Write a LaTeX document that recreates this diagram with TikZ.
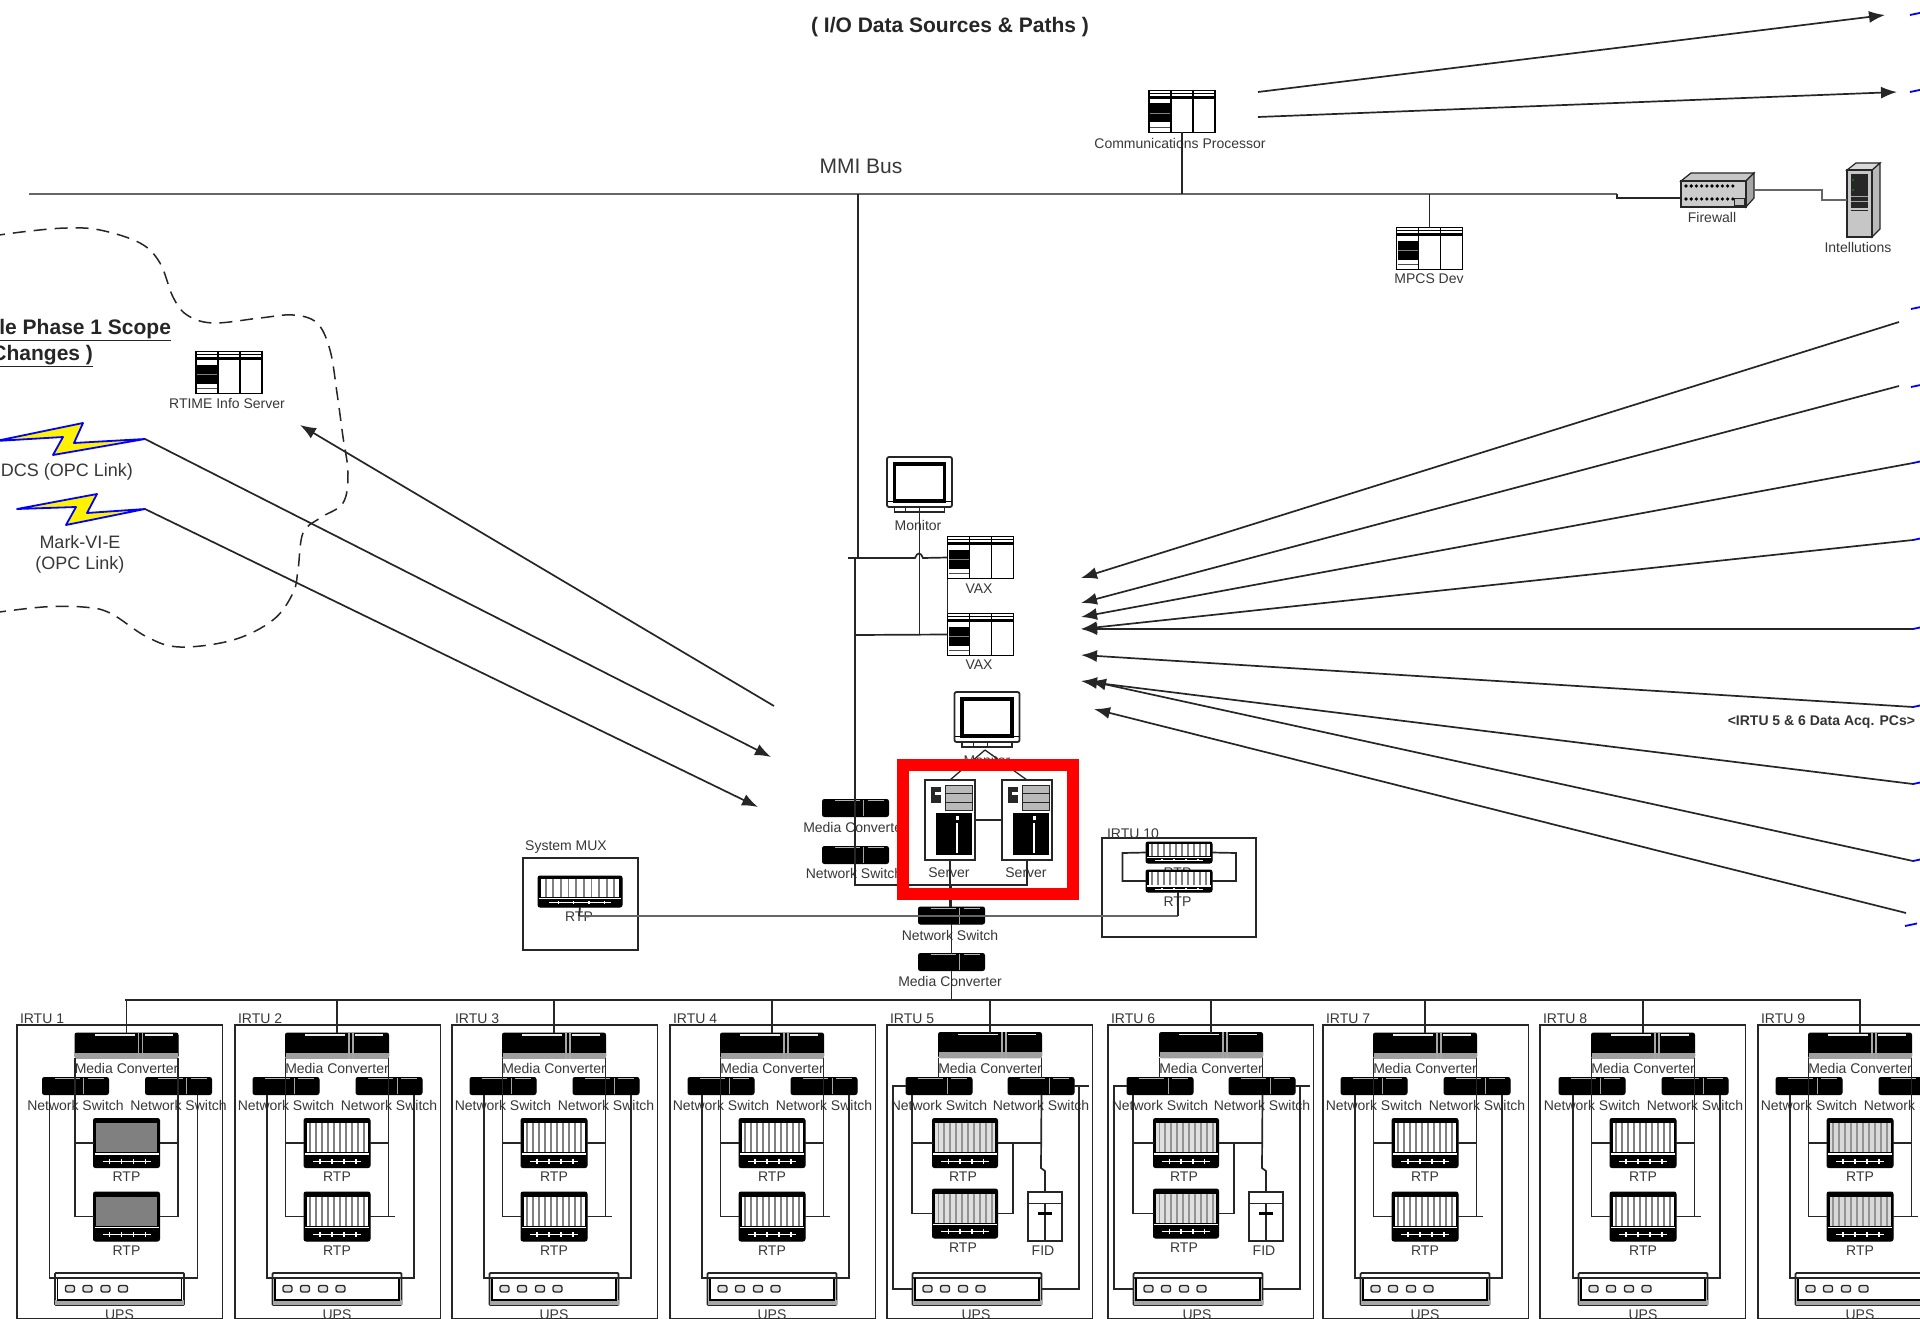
\documentclass[tikz,border=0pt]{standalone}
\usepackage{fontspec}
\setmainfont{Liberation Sans}
\usetikzlibrary{arrows.meta,calc}
\definecolor{ink}{gray}{0.15}
\definecolor{lab}{gray}{0.22}
\tikzset{
  wire/.style={draw=ink,line width=1.7pt},
  arr/.style={draw=ink,line width=1.7pt,-{Latex[length=16pt,width=12pt]}},
  lbl/.style={text=lab,font=\fontsize{14}{16}\selectfont,inner sep=0pt,outer sep=0pt},
  biglbl/.style={text=lab,font=\fontsize{18}{21}\selectfont,inner sep=0pt,outer sep=0pt},
  boldlbl/.style={text=black!85,font=\bfseries\fontsize{21}{24}\selectfont,inner sep=0pt,outer sep=0pt},
  iconbox/.style={draw=black,fill=white,line width=1.8pt,inner sep=0pt,outer sep=0pt,rectangle},
  blackbox/.style={draw=black,fill=black,line width=1pt,rounded corners=2pt,inner sep=0pt,outer sep=0pt,rectangle},
  unitbox/.style={draw=ink,line width=1.8pt,inner sep=0pt,outer sep=0pt,rectangle},
  blindbox/.style={inner sep=0pt,outer sep=0pt,rectangle},
  cloudline/.style={draw=ink,line width=1.5pt,dash pattern=on 13pt off 8pt},
  bolt/.style={draw=blue,fill=yellow,line width=1.8pt,line join=round},
  stub/.style={draw=blue,line width=1.8pt},
  redframe/.style={draw=red,line width=11.5pt},
}
% ---------- icons ----------
\newcommand\plcicon[3]{%
  \node[iconbox,minimum width=66pt,minimum height=42pt] (#1) at (#2,#3) {};
  \begin{scope}[shift={(#2,#3)}]
    \draw[black,line width=1.4pt] (-33,-18) -- (33,-18);
    \draw[black,line width=2.4pt] (-33,-14) -- (33,-14);
    \draw[black,line width=1.8pt] (-11,-21) -- (-11,21) (11,-21) -- (11,21);
    \fill[black] (-32,-8) rectangle (-12,11);
    \draw[gray,line width=.8pt] (-32,1.5) -- (-12,1.5);
    \draw[black!70,line width=1pt] (-32,16) -- (-12,16);
  \end{scope}}
\newcommand\rtpicon[7]{% name cx cy w h bg slot
  \node[blackbox,minimum width=#4 pt,minimum height=#5 pt] (#1) at (#2,#3) {};
  \begin{scope}[shift={(#2,#3)},xscale=#4/66,yscale=#5/49]
    \fill[#6] (-30.5,-20) rectangle (30.5,9);
    \foreach \s in {-27,-21,...,27} {\draw[#7,line width=1.8pt] (\s,-20) -- (\s,9);}
    \draw[white,line width=1.4pt] (-32,11) -- (32,11);
    \draw[white,line width=1pt] (-24,18) -- (24,18);
    \foreach \s in {-17,-5,7,19} {\draw[white,line width=1.3pt] (\s,15.5) -- (\s,20.5);}
  \end{scope}}
\newcommand\mcbig[3]{%
  \node[blackbox,minimum width=103pt,minimum height=25pt] (#1) at (#2,#3) {};
  \begin{scope}[shift={(#2,#3)}]
    \fill[gray!75] (-51.5,7) rectangle (51.5,13);
    \draw[white!85!gray,line width=1.2pt] (-32,-10.5) -- (8,-10.5) (18,-10.5) -- (46,-10.5);
    \draw[gray!70,line width=1.1pt] (12,-13) -- (12,13) (16,-13) -- (16,13);
  \end{scope}}
\newcommand\nsicon[3]{%
  \node[blackbox,minimum width=66pt,minimum height=17pt] (#1) at (#2,#3) {};
  \begin{scope}[shift={(#2,#3)}]
    \draw[gray!70,line width=1pt] (8,-8) -- (8,8);
    \draw[gray!60,line width=.7pt] (-21,-7.5) -- (4,-7.5) (12,-7.5) -- (28,-7.5);
  \end{scope}}
\newcommand\upsicon[3]{%
  \node[iconbox,draw=ink,rounded corners=1pt,minimum width=129pt,minimum height=32pt] (#1) at (#2,#3) {};
  \begin{scope}[shift={(#2,#3)}]
    \draw[ink,line width=1.3pt] (-64.5,-11) -- (64.5,-11);
    \fill[gray!70] (-64.5,11) rectangle (64.5,16);
    \draw[black,line width=1.7pt] (-62,-11) -- (-62,11) -- (62,11) -- (62,-11);
    \foreach \s in {-49.5,-32,-14,3.5} {\draw[ink,fill=gray!25,line width=1.3pt,rounded corners=2pt] (\s-4.5,-3.5) rectangle (\s+4.5,3);}
  \end{scope}}
\newcommand\fidicon[3]{%
  \node[iconbox,draw=ink,minimum width=34pt,minimum height=49pt] (#1) at (#2,#3) {};
  \begin{scope}[shift={(#2,#3)}]
    \draw[ink,line width=1.4pt] (-17,-13) -- (17,-13);
    \draw[ink,line width=1.4pt] (0,-13) -- (0,24.5);
    \draw[black,line width=2.4pt] (-7,-3) -- (7,-3);
  \end{scope}}
\newcommand\monicon[3]{%
  \node[iconbox,draw=ink,rounded corners=2pt,minimum width=65pt,minimum height=50pt] (#1) at (#2,#3) {};
  \begin{scope}[shift={(#2,#3)}]
    \draw[black,line width=3.4pt] (-25,-18) rectangle (25,19);
    \draw[black,line width=1.3pt] (-32,19.5) -- (32,19.5);
    \draw[ink,line width=1.3pt,fill=white] (-25,25) rectangle (25,30);
    \draw[ink,line width=1pt] (-14,25) -- (-14,30) (0,25) -- (0,30);
  \end{scope}}
\newcommand\srvicon[3]{%
  \node[iconbox,draw=ink,minimum width=50pt,minimum height=80pt] (#1) at (#2,#3) {};
  \begin{scope}[shift={(#2,#3)}]
    \fill[gray!55] (-5,-35) rectangle (22,-10);
    \draw[ink,line width=1pt] (-5,-35) rectangle (22,-10);
    \draw[ink,line width=1pt] (-5,-27) -- (22,-27) (-5,-18) -- (22,-18);
    \fill[black!85] (-19,-33) rectangle (-9,-17);
    \fill[white] (-15,-28) rectangle (-9,-25);
    \fill[black] (-14,-7) rectangle (22,35);
    \fill[white] (6,3) rectangle (8,33);
    \fill[white] (5.5,-4) rectangle (8.5,0);
  \end{scope}}
% ---------- standard IRTU ----------
\newcommand\irtu[9]{% id num L cx rtpbg rtpslot lowoff leftin rightin
  \node[unitbox,minimum width=205.5pt,minimum height=294pt,anchor=north west] (#1box) at (#3,1025) {};
  \node[lbl,anchor=west] (#1name) at (#3+3,1019) {IRTU #2};
  \mcbig{#1mc}{#4}{1045.5}
  \node[lbl] (#1mcl) at (#4,1068) {Media Converter};
  \nsicon{#1nsL}{#4-51}{1086}
  \nsicon{#1nsR}{#4+52}{1086}
  \node[lbl] (#1nlL) at (#4-51,1105) {Network Switch};
  \node[lbl] (#1nlR) at (#4+52,1105) {Network Switch};
  \rtpicon{#1rtpA}{#4}{1143}{66}{49}{#5}{#6}
  \node[lbl] (#1rlA) at (#4,1177) {RTP};
  \rtpicon{#1rtpB}{#4}{1216.5}{66}{49}{#5}{#6}
  \node[lbl] (#1rlB) at (#4,1251) {RTP};
  \upsicon{#1ups}{#4+#7}{1289}
  \node[lbl] (#1upsl) at (#4+#7,1315) {UPS};
  \draw[wire] (#1mc.north) -- (#1mc.north |- bus);
  \draw[wire] (#1mc.south west) |- (#1rtpB.west);
  \draw[wire] (#1rtpA.west) -- (#1rtpA.west -| #1mc.south west);
  \draw[wire] (#1mc.south east) |- (#1rtpB.east);
  \draw[wire] (#1rtpA.east) -- (#1rtpA.east -| #1mc.south east);
  \draw[wire] ($(#1nsL.south west)+(#8,0)$) |- ($(#1ups.north west)+(13,5)$);
  \draw[wire] ($(#1nsR.south east)+(-#9,0)$) |- ($(#1ups.north east)+(-13,5)$);
}
% ---------- IRTU with FID ----------
\newcommand\irtufid[4]{% id num L cx
  \node[unitbox,minimum width=205.5pt,minimum height=294pt,anchor=north west] (#1box) at (#3,1025) {};
  \node[lbl,anchor=west] (#1name) at (#3+3,1019) {IRTU #2};
  \mcbig{#1mc}{#4}{1045}
  \node[lbl] (#1mcl) at (#4,1068) {Media Converter};
  \nsicon{#1nsL}{#4-51}{1086}
  \nsicon{#1nsR}{#4+51}{1086}
  \node[lbl] (#1nlL) at (#4-51,1105) {Network Switch};
  \node[lbl] (#1nlR) at (#4+51,1105) {Network Switch};
  \rtpicon{#1rtpA}{#4-25}{1143}{65}{49}{gray!25}{gray!85}
  \node[lbl] (#1rlA) at (#4-27,1177) {RTP};
  \rtpicon{#1rtpB}{#4-25}{1213.5}{65}{49}{gray!25}{gray!85}
  \node[lbl] (#1rlB) at (#4-27,1248) {RTP};
  \fidicon{#1fid}{#4+55}{1216.5}
  \node[lbl] (#1fidl) at (#4+53,1251) {FID};
  \upsicon{#1ups}{#4-13}{1289}
  \node[lbl] (#1upsl) at (#4-14,1315) {UPS};
  \coordinate (#1jog) at (#4+51,1168);
  \coordinate (#1jogb) at (#4+55,1171);
  \coordinate (#1tee) at (#4+23,1143);
  \coordinate (#1ol) at (#4-97,1086);
  \coordinate (#1ort) at (#4+99,1086);
  \coordinate (#1or) at (#4+89,1086);
  \draw[wire] (#1mc.north) -- (#1mc.north |- bus);
  \draw[wire] (#1mc.south west) -- (#1mc.south west |- #1nsL.north);
  \draw[wire] (#1mc.south east) -- (#1mc.south east |- #1nsR.north);
  \draw[wire] ($(#1nsL.south west)+(6,0)$) |- (#1rtpB.west);
  \draw[wire] (#1rtpA.west) -- ($(#1nsL.south west |- #1rtpA.west)+(6,0)$);
  \draw[wire] (#1mc.south east |- #1nsR.south) -- (#1jog) -- (#1jogb) -- (#1fid.north);
  \draw[wire] (#1rtpA.east) -- (#1rtpA.east -| #1jog);
  \draw[wire] (#1tee) |- (#1rtpB.east);
  \draw[wire] (#1nsL.west) -- (#1ol) |- (#1ups.west);
  \draw[wire] (#1nsR.east) -- (#1ort);
  \draw[wire] (#1or) |- (#1ups.east);
}
\begin{document}
\begin{tikzpicture}[x=1pt,y=-1pt]
\clip (0,0) rectangle (1920,1319);
\fill[white] (0,0) rectangle (1920,1319);

% title and top bus
\node[boldlbl] (title) at (950,27.5) {( I/O Data Sources \& Paths )};
\node[biglbl,font=\fontsize{21}{24}\selectfont] (mmil) at (861,166) {MMI Bus};
\coordinate (mmiL) at (29,194);
\coordinate (mmiR) at (1617,194);
\coordinate (mmiS) at (1617,198);
\coordinate (mmiV) at (858,194);

% top-right equipment
\plcicon{comm}{1182}{111.5}
\node[lbl] (comml) at (1180,143) {Communications Processor};
\plcicon{mpcs}{1429.5}{248.5}
\node[lbl] (mpcsl) at (1429,279) {MPCS Dev};

\node[blindbox,minimum width=73pt,minimum height=34pt] (fw) at (1717.5,190) {};
\filldraw[draw=ink,fill=gray!45,line width=1.2pt] (1681,181) -- (1691,173) -- (1754,173) -- (1746,181) -- cycle;
\filldraw[draw=ink,fill=gray!70,line width=1.2pt] (1746,181) -- (1754,173) -- (1754,198) -- (1746,207) -- cycle;
\filldraw[draw=ink,fill=gray!40,line width=1.2pt] (1681,181) rectangle (1746,207);
\foreach \i in {0,...,9} {
  \fill[black] (1686+\i*5.2,186) circle (1.8);
  \fill[black] (1686+\i*5.2,199) circle (1.8);
}
\draw[ink,line width=1pt,fill=gray!50] (1734,198) rectangle (1744,205);
\node[lbl] (fwl) at (1712,217) {Firewall};

\node[blindbox,minimum width=33pt,minimum height=74pt] (ints) at (1863.5,200) {};
\filldraw[draw=ink,fill=gray!55,line width=1.2pt] (1872,170) -- (1880,163) -- (1880,229) -- (1872,237) -- cycle;
\filldraw[draw=ink,fill=gray!30,line width=1.2pt] (1847,170) -- (1856,163) -- (1880,163) -- (1872,170) -- cycle;
\filldraw[draw=ink,fill=gray!45,line width=1.2pt] (1847,170) rectangle (1872,237);
\fill[black!85] (1851,174) rectangle (1868,208);
\fill[green!60!black] (1853,180) circle (1);
\fill[green!60!black] (1853,190) circle (1);
\draw[gray!70,line width=.8pt] (1851,196) -- (1868,196) (1851,201) -- (1868,201);
\draw[ink,line width=1pt] (1851,210) -- (1868,210);
\node[lbl] (intsl) at (1858,247) {Intellutions};

\coordinate (fwo) at (1822,190);
\coordinate (fwp) at (1822,200);
\draw[wire,line width=2.2pt,draw=black!60] (mmiL) -- (mmiR);
\draw[wire] (mmiR) -- (mmiS) -- (mmiS -| fw.west);
\draw[wire,draw=black!60,line width=2.2pt] (fw.east) -- (fwo) -- (fwp) -- (fwp -| ints.west);
\draw[wire] (comm.south) -- (comm.south |- mmiR);
\draw[wire] (mpcs.north) -- (mpcs.north |- mmiR);

% arrows toward the top right
\coordinate (ca1) at (1258,92);
\coordinate (ct1) at (1885,15);
\coordinate (ca2) at (1258,117);
\coordinate (ct2) at (1897,92);
\draw[arr] (ca1) -- (ct1);
\draw[arr] (ca2) -- (ct2);

% cloud
\draw[cloudline] plot[smooth,tension=.6] coordinates {(-8,236) (30,231) (67,228) (100,230) (140,243) (160,263) (173,297) (187,315) (213,323) (260,318) (293,315) (317,323) (330,350) (337,393) (343,437) (348,473) (343,503) (320,518) (303,533) (298,570) (293,593) (273,620) (233,640) (180,647) (147,637) (110,613) (83,607) (43,607) (-8,613)};
\node[boldlbl,anchor=base east] (scope1) at (171,334) {\underline{le Phase 1 Scope}};
\node[boldlbl,anchor=base east] (scope2) at (93,360) {\underline{Changes )}};
\plcicon{rtime}{229}{372.5}
\node[lbl] (rtimel) at (227,404) {RTIME Info Server};

% lightning links
\coordinate (dcs) at (145,439);
\coordinate (mark) at (145,509);
\path[bolt] (-4,441) -- (83,423) -- (74,443) -- (dcs) -- (53,455) -- (63,437) -- cycle;
\path[bolt] (17,509) -- (97,494) -- (87,513) -- (mark) -- (66,525) -- (76,507) -- cycle;
\node[biglbl] (dcsl) at (67,472) {DCS (OPC Link)};
\node[biglbl] (markl) at (80,542) {Mark-VI-E};
\node[biglbl] (markm) at (80,564.5) {(OPC Link)};
\coordinate (ta) at (771,757);
\coordinate (tb) at (758,807);
\coordinate (cs) at (774,706);
\coordinate (ct) at (300,425);
\draw[arr] (dcs) -- (ta);
\draw[arr] (mark) -- (tb);
\draw[arr] (cs) -- (ct);

% central column
\monicon{mon1}{919.5}{482}
\node[lbl] (mon1l) at (918,525) {Monitor};
\plcicon{vax1}{980.5}{557.5}
\node[lbl] (vax1l) at (979,589) {VAX};
\plcicon{vax2}{980.5}{634.5}
\node[lbl] (vax2l) at (979,665) {VAX};
\monicon{mon2}{987}{717}
\node[lbl] (mon2l) at (987,760) {Monitor};
\nsicon{mconv}{855.5}{808}
\node[lbl] (mconvl) at (855,827) {Media Converter};
\nsicon{nswa}{855.5}{855}
\node[lbl] (nswal) at (854,873) {Network Switch};
\srvicon{sa}{950}{820}
\node[lbl] (sal) at (949,873) {Server};
\srvicon{sb}{1027}{820}
\node[lbl] (sbl) at (1026,873) {Server};
\nsicon{nswc}{951.5}{915.5}
\node[lbl] (nswcl) at (950,935) {Network Switch};
\nsicon{mconc}{951.5}{962}
\node[lbl] (mconcl) at (950,981) {Media Converter};

\coordinate (mid) at (855,558);
\coordinate (corner) at (855,885);
\coordinate (vstub) at (848,558);
\coordinate (hopR) at (923,558);
\coordinate (hopL) at (915,558);
\coordinate (vaxnode) at (855,635);
\draw[wire] (mmiV) -- (858,558);
\draw[wire] (mid) -- (corner) -| (sb.south);
\draw[wire] (vax1.west) -- (hopR) .. controls (921,552) and (917,552) .. (hopL) -- (vstub);
\draw[wire] (vaxnode) -- (vax2.west);
\draw[wire] (mon1.south) ++(0,5) -- (mon1.south |- vax2.west);
\draw[wire] (vax1.south west) -- (vax2.north west);
\draw[wire] (sa.east) -- (sb.west);
\draw[wire] (sa.south) -- (sa.south |- nswc.north);
\draw[wire] (nswc.south) -- (mconc.north);
\draw[wire] (nswc.north) -- (nswc.north |- corner);
\draw[wire,line width=1.3pt] (mon2.south) ++(-2,8) -- (sa.north);
\draw[wire,line width=1.3pt] (mon2.south) ++(-2,8) -- (sb.north);

% system MUX and IRTU 10
\node[unitbox,minimum width=115pt,minimum height=92pt] (muxbox) at (580.5,904) {};
\node[lbl] (muxl) at (566,847) {System MUX};
\rtpicon{muxrtp}{580}{891.5}{84}{31}{white}{gray}
\node[lbl] (muxrl) at (579,917) {RTP};
\node[unitbox,minimum width=154pt,minimum height=99pt] (tenbox) at (1179,887.5) {};
\node[lbl] (tenl) at (1133,834) {IRTU 10};
\node[lbl] (tenrA) at (1177.5,873) {RTP};
\rtpicon{tena}{1179}{852.5}{66}{21}{white}{gray}
\rtpicon{tenb}{1179}{881}{66}{22}{white}{gray}
\node[lbl] (tenrB) at (1177.5,902) {RTP};
\coordinate (tapL) at (579,916);
\coordinate (tapR) at (1178,916);
\draw[wire,draw=black!60,line width=2.2pt] (tapL) -- (tapR);
\draw[wire] (muxrtp.south) -- (tapL);
\draw[wire] (tapR) -- (tapR |- tenb.south);
\coordinate (lpL) at (1122.5,853);
\coordinate (lpR) at (1236,853);
\draw[wire] (tena.west) -- (lpL) |- (tenb.west);
\draw[wire] (tena.east) -- (lpR) |- (tenb.east);

% the frame drawn round the servers
\coordinate (rfa) at (903,765);
\coordinate (rfb) at (1073,894);
\draw[redframe] (rfa) rectangle (rfb);

% lower bus
\coordinate (bus) at (125,1000);
\coordinate (busR) at (1861,1000);
\draw[wire] (mconc.south) -- (mconc.south |- bus);
\draw[wire] (bus) -- (busR);

% IRTU cabinets
\irtu{ia}{1}{17}{126.5}{gray}{gray}{-7}{7}{14}
\irtu{ib}{2}{235}{337}{white}{gray}{0}{14}{8}
\irtu{ic}{3}{452}{554}{white}{gray}{0}{14}{8}
\irtu{id}{4}{670}{772}{white}{gray}{0}{14}{8}
\irtufid{ie}{5}{887}{990}
\irtufid{if}{6}{1108}{1211}
\irtu{ig}{7}{1323}{1425}{white}{gray}{0}{14}{8}
\irtu{ih}{8}{1540}{1643}{white}{gray}{0}{14}{8}
\irtu{ii}{9}{1758}{1860}{gray!30}{gray!85}{0}{14}{8}
\foreach \u in {ib,ic,id,ig,ih,ii} {
  \draw[wire] (\u rtpB.east -| \u mc.south east) -- ++(6,0);
}

% fan of links on the right
\foreach \n/\x/\y/\tx/\ty in {
  a/1899/322/1081/578, b/1899/386/1081/603, c/1913/463/1081/617,
  d/1913/540/1081/629, e/1913/629/1081/629, f/1913/707/1081/655,
  g/1913/784/1081/681, h/1913/861/1090/681, i/1906/913/1094/709} {
  \coordinate (fs\n) at (\x,\y);
  \coordinate (ft\n) at (\tx,\ty);
  \draw[arr] (fs\n) -- (ft\n);
}
\foreach \n/\x/\y in {
  a/1911/309, b/1911/387, c/1913/463, d/1913/540, e/1913/629,
  f/1913/707, g/1913/784, h/1913/861, i/1905/926, j/1910/15, k/1910/92} {
  \coordinate (bs\n) at (\x,\y);
  \draw[stub] (bs\n) -- ++(12,-2.5);
}
\node[lbl,anchor=east,text=black!80,font=\bfseries\fontsize{14}{16}\selectfont] (acq) at (1915,722) {<IRTU 5 \& 6 Data Acq. PCs>};
\end{tikzpicture}
\end{document}
